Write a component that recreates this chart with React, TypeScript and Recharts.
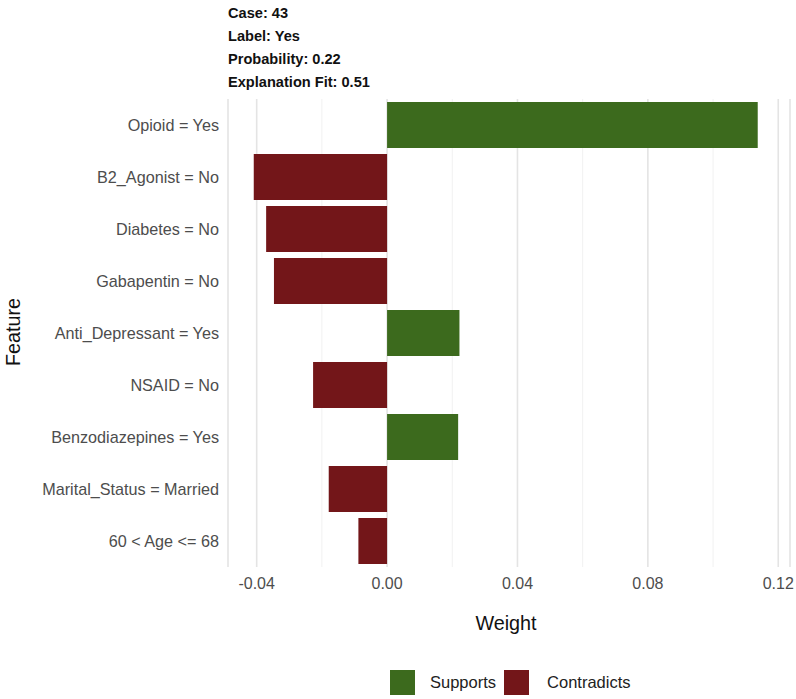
import React from 'react';
import { BarChart, Bar, XAxis, YAxis, CartesianGrid, Cell } from 'recharts';

const features = [
  'Opioid = Yes',
  'B2_Agonist = No',
  'Diabetes = No',
  'Gabapentin = No',
  'Anti_Depressant = Yes',
  'NSAID = No',
  'Benzodiazepines = Yes',
  'Marital_Status = Married',
  '60 < Age <= 68',
];
const weights = [0.1137, -0.0409, -0.0371, -0.0347, 0.0222, -0.0227, 0.0218, -0.0179, -0.0088];
const majorTicks = [-0.04, 0, 0.04, 0.08, 0.12];
const minorTicks = [-0.02, 0.02, 0.06, 0.1];
const xDomain = [-0.0488, 0.1236];
const titleLines = ['Case: 43', 'Label: Yes', 'Probability: 0.22', 'Explanation Fit: 0.51'];

const GREEN = '#3c6a1d';
const RED = '#731619';
const FONT = '"Liberation Sans", Arial, Helvetica, sans-serif';

const data = features.map((f, i) => ({ feature: f, weight: weights[i] }));

// minor grid positions through the axis scale
const minorGrid = ({ xAxis, offset }: any) =>
  minorTicks.map((t) =>
    xAxis && typeof xAxis.scale === 'function'
      ? xAxis.scale(t)
      : offset.left + (offset.width * (t - xDomain[0])) / (xDomain[1] - xDomain[0])
  );

const App = () => {
  return (
    <div style={{ position: 'relative', width: 796, height: 699, fontFamily: FONT, background: '#fff' }}>
      <style>{'body{margin:0}'}</style>

      {/* title block */}
      <div style={{ position: 'absolute', left: 228, top: 2, fontWeight: 700, fontSize: 14.6, lineHeight: '23px', color: '#111' }}>
        {titleLines.map((t) => (
          <div key={t}>{t}</div>
        ))}
      </div>

      <BarChart
        width={796}
        height={699}
        data={data}
        layout="vertical"
        margin={{ top: 99, right: 6, bottom: 102, left: 0 }}
        barCategoryGap="6%"
      >
        <CartesianGrid
          horizontal={false}
          vertical
          stroke="#f1f1f1"
          strokeWidth={1}
          verticalCoordinatesGenerator={minorGrid}
        />
        <CartesianGrid horizontal={false} vertical stroke="#e4e4e4" strokeWidth={1.6} />
        <XAxis
          type="number"
          domain={xDomain}
          ticks={majorTicks}
          allowDataOverflow
          tickFormatter={(v: number) => v.toFixed(2)}
          axisLine={false}
          tickLine={false}
          tickSize={0}
          tickMargin={11}
          height={30}
          tick={{ fill: '#4d4d4d', fontSize: 16, fontFamily: FONT }}
        />
        <YAxis
          type="category"
          dataKey="feature"
          width={228}
          axisLine={false}
          tickLine={false}
          tickSize={0}
          tickMargin={9}
          interval={0}
          tick={{ fill: '#4d4d4d', fontSize: 16.2, fontFamily: FONT }}
        />
        <Bar dataKey="weight" isAnimationActive={false}>
          {data.map((d, i) => (
            <Cell key={`c-${i}`} fill={d.weight >= 0 ? GREEN : RED} />
          ))}
        </Bar>
      </BarChart>

      {/* axis titles */}
      <div
        style={{
          position: 'absolute',
          left: 13,
          top: 332,
          transform: 'translate(-50%, -50%) rotate(-90deg)',
          fontSize: 19.8,
          color: '#111',
          whiteSpace: 'nowrap',
        }}
      >
        Feature
      </div>
      <div style={{ position: 'absolute', left: 506, top: 623, transform: 'translate(-50%, -50%)', fontSize: 19.8, color: '#111' }}>
        Weight
      </div>

      {/* legend */}
      <div style={{ position: 'absolute', left: 390, top: 670, display: 'flex', alignItems: 'center', fontSize: 16.5, color: '#222' }}>
        <span style={{ width: 25, height: 25, background: GREEN, display: 'inline-block', marginRight: 15 }} />
        <span style={{ marginRight: 8 }}>Supports</span>
        <span style={{ width: 25, height: 25, background: RED, display: 'inline-block', marginRight: 18 }} />
        <span>Contradicts</span>
      </div>
    </div>
  );
};

export default App;
